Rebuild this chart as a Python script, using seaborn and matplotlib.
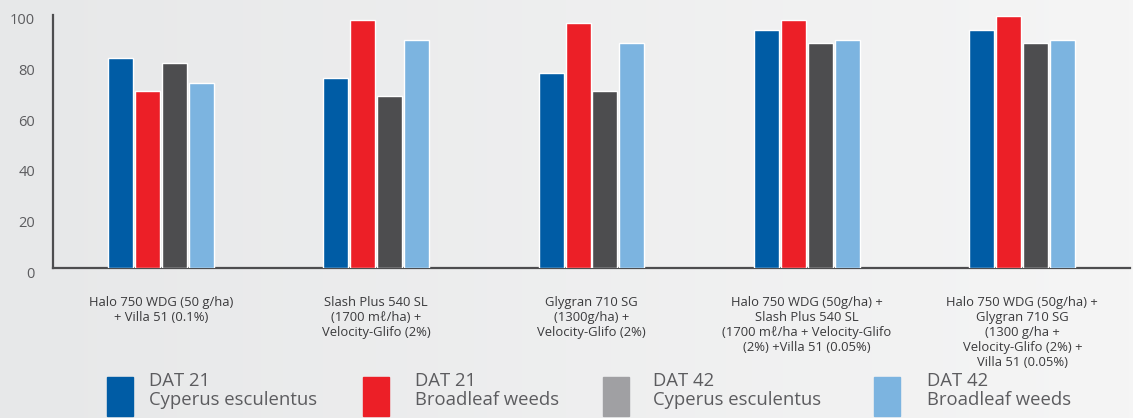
import numpy as np
import pandas as pd
import matplotlib.pyplot as plt
import matplotlib.transforms as mtransforms
from matplotlib.patches import Rectangle
import seaborn as sns

# Chart data
treatments = ["Halo 750 WDG (50 g/ha)\n+ Villa 51 (0.1%)",
              "Slash Plus 540 SL\n(1700 mℓ/ha) +\nVelocity-Glifo (2%)",
              "Glygran 710 SG\n(1300g/ha) +\nVelocity-Glifo (2%)",
              "Halo 750 WDG (50g/ha) +\nSlash Plus 540 SL\n(1700 mℓ/ha + Velocity-Glifo\n(2%) +Villa 51 (0.05%)",
              "Halo 750 WDG (50g/ha) +\nGlygran 710 SG\n(1300 g/ha +\nVelocity-Glifo (2%) +\nVilla 51 (0.05%)"]
series = ["DAT 21\nCyperus esculentus", "DAT 21\nBroadleaf weeds",
          "DAT 42\nCyperus esculentus", "DAT 42\nBroadleaf weeds"]
dat21_cyperus = [83, 75, 77, 94, 94]
dat21_broadleaf = [70, 98, 97, 98, 99.5]
dat42_cyperus = [81, 68, 70, 89, 89]
dat42_broadleaf = [73, 90, 89, 90, 90]
yticks = [0, 20, 40, 60, 80, 100]

bar_colors = ["#005ca5", "#ec1f27", "#4d4d4f", "#7cb4e0"]
legend_colors = ["#005ca5", "#ec1f27", "#a0a0a3", "#7cb4e0"]
text_color = "#5c5c5f"

df = pd.DataFrame({
    "treatment": treatments * 4,
    "series": np.repeat(series, len(treatments)),
    "value": dat21_cyperus + dat21_broadleaf + dat42_cyperus + dat42_broadleaf,
})

sns.set_style("white")
plt.rcParams['font.family'] = ['Open Sans', 'DejaVu Sans']

fig = plt.figure(figsize=(11.33, 4.18), dpi=100)

# soft grey gradient background
bg = fig.add_axes([0, 0, 1, 1], zorder=-10)
bg.imshow(np.linspace(0, 1, 256)[None, :], cmap=sns.blend_palette(["#e7e8e9", "#f5f5f5"], as_cmap=True),
          aspect="auto", extent=[0, 1, 0, 1])
bg.set_axis_off()

ax = fig.add_axes([53 / 1133, 150 / 418, 1077 / 1133, 253 / 418])
ax.patch.set_alpha(0)
sns.barplot(data=df, x="treatment", y="value", hue="series", hue_order=series,
            palette=bar_colors, saturation=1, width=0.5, gap=0.07, legend=False, ax=ax)

ax.set_ylim(0, 100)
ax.set_xlim(-0.5, 4.5)
ax.set_yticks(yticks)
ax.set_xlabel("")
ax.set_ylabel("")

for side in ["top", "right"]:
    ax.spines[side].set_visible(False)
for side in ["left", "bottom"]:
    ax.spines[side].set_color("#4d4d4f")
    ax.spines[side].set_linewidth(1.6)
    ax.spines[side].set_zorder(0.5)

ax.tick_params(axis="y", direction="in", length=20, width=1.6, color="#4d4d4f",
               pad=13, labelsize=10.5, labelcolor=text_color)
ax.tick_params(axis="x", which="major", length=0, pad=20, labelsize=9.4, labelcolor="#3a3a3c")
ax.set_xticks([0.5, 1.5, 2.5, 3.5], minor=True)
ax.tick_params(axis="x", which="minor", direction="in", length=4, width=1.6, color="#4d4d4f")

offset = mtransforms.ScaledTranslation(0, -4 / 100, fig.dpi_scale_trans)
for lab in ax.get_yticklabels():
    lab.set_transform(lab.get_transform() + offset)
for lab in ax.get_xticklabels():
    lab.set_verticalalignment("top")
    lab.set_linespacing(1.2)

# legend along the bottom
rect_x = [107, 363, 603, 874]
text_x = [149, 415, 653, 927]
for x, tx, col, name in zip(rect_x, text_x, legend_colors, series):
    fig.patches.append(Rectangle((x / 1133, 2 / 418), 26 / 1133, 39 / 418,
                                 transform=fig.transFigure, color=col, figure=fig))
    fig.text(tx / 1133, 46 / 418, name, fontsize=13.3, color=text_color,
             va="top", ha="left", linespacing=1.08)

fig.savefig("out.png", dpi=100)
